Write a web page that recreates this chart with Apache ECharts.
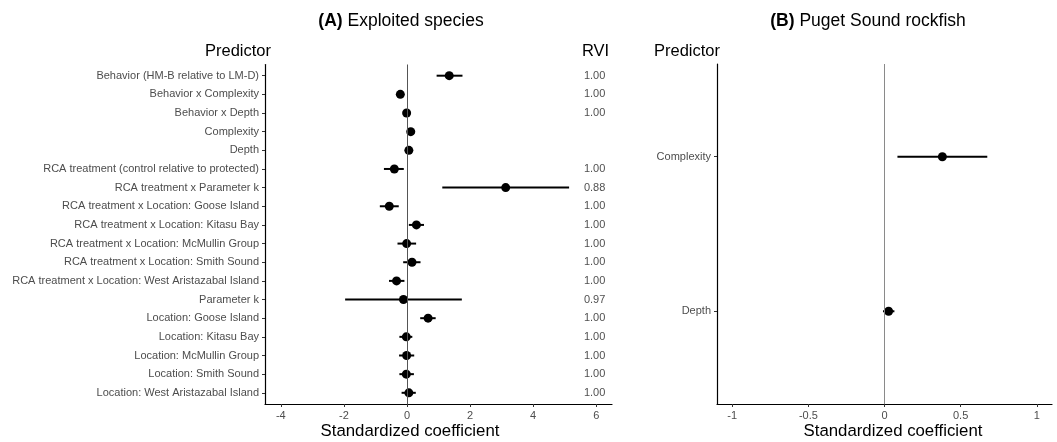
<!DOCTYPE html>
<html>
<head>
<meta charset="utf-8">
<title>Standardized coefficients</title>
<script src="https://cdn.jsdelivr.net/npm/echarts@6/dist/echarts.min.js"></script>
<style>
	html, body { margin: 0; padding: 0; background: #fff; }
	#chart { width: 1057px; height: 442px; }
</style>
</head>
<body>
<div id="chart"></div>
<script>
// panel A: exploited species
var predictorsA = [
	"Behavior (HM-B relative to LM-D)",
	"Behavior x Complexity",
	"Behavior x Depth",
	"Complexity",
	"Depth",
	"RCA treatment (control relative to protected)",
	"RCA treatment x Parameter k",
	"RCA treatment x Location: Goose Island",
	"RCA treatment x Location: Kitasu Bay",
	"RCA treatment x Location: McMullin Group",
	"RCA treatment x Location: Smith Sound",
	"RCA treatment x Location: West Aristazabal Island",
	"Parameter k",
	"Location: Goose Island",
	"Location: Kitasu Bay",
	"Location: McMullin Group",
	"Location: Smith Sound",
	"Location: West Aristazabal Island"
];
var estA   = [1.34, -0.21, -0.01, 0.12, 0.06, -0.40, 3.13, -0.56, 0.30, -0.01, 0.16, -0.33, -0.11, 0.67, -0.02, -0.01, -0.02, 0.06];
var lowerA = [0.94, -0.27, -0.07, 0.06, 0.00, -0.73, 1.12, -0.86, 0.06, -0.30, -0.12, -0.57, -1.96, 0.42, -0.24, -0.25, -0.24, -0.17];
var upperA = [1.76, -0.15, 0.05, 0.18, 0.12, -0.10, 5.14, -0.26, 0.54, 0.29, 0.43, -0.08, 1.74, 0.91, 0.17, 0.23, 0.22, 0.28];
var rviA   = ["1.00", "1.00", "1.00", "", "", "1.00", "0.88", "1.00", "1.00", "1.00", "1.00", "1.00", "0.97", "1.00", "1.00", "1.00", "1.00", "1.00"];
var ticksA = [-4, -2, 0, 2, 4, 6];

// panel B: Puget Sound rockfish
var predictorsB = ["Complexity", "Depth"];
var estB   = [0.38, 0.027];
var lowerB = [0.085, -0.01];
var upperB = [0.675, 0.065];
var ticksB = [-1, -0.5, 0, 0.5, 1];

var RVI_X = 5.95;
var FONT = "Liberation Sans, Arial, Helvetica, sans-serif";

function idx(arr) {
	return arr.map(function (d, i) { return i; });
}

function errorBars(lo, hi) {
	return lo.map(function (v, i) { return [v, hi[i], i]; });
}

function points(est) {
	return est.map(function (v, i) { return [v, i]; });
}

function renderBar(params, api) {
	var a = api.coord([api.value(0), api.value(2)]);
	var b = api.coord([api.value(1), api.value(2)]);
	return {
		type: "line",
		shape: { x1: a[0], y1: a[1], x2: b[0], y2: b[1] },
		style: { stroke: "#000", lineWidth: 2 }
	};
}

function xAxisCfg(grid, min, max, ticks) {
	return {
		type: "value", gridIndex: grid, min: min, max: max,
		splitLine: { show: false },
		axisLine: { show: true, onZero: false, lineStyle: { color: "#000", width: 1.2 } },
		axisTick: { show: true, length: 3, customValues: ticks, lineStyle: { color: "#333" } },
		axisLabel: { customValues: ticks, color: "#4d4d4d", fontSize: 11, fontFamily: FONT, margin: 6 }
	};
}

function yAxisCfg(grid, names) {
	return {
		type: "value", gridIndex: grid, inverse: true,
		min: -0.6, max: names.length - 0.4,
		splitLine: { show: false },
		axisLine: { show: true, onZero: false, lineStyle: { color: "#000", width: 1.2 } },
		axisTick: { show: true, length: 3, customValues: idx(names), lineStyle: { color: "#333" } },
		axisLabel: {
			customValues: idx(names), color: "#4d4d4d", fontSize: 11, fontFamily: FONT, margin: 6,
			formatter: function (v) { return names[Math.round(v)]; }
		}
	};
}

function zeroLine(color) {
	return {
		silent: true, symbol: "none", animation: false,
		label: { show: false },
		lineStyle: { color: color, width: 1, type: "solid" },
		data: [{ xAxis: 0 }]
	};
}

function txt(text, x, y, size, align) {
	return {
		type: "text", x: x, y: y,
		style: {
			text: text, fill: "#000", fontSize: size, fontFamily: FONT,
			align: align || "left", verticalAlign: "middle",
			rich: { b: { fontWeight: "bold", fontSize: size, fontFamily: FONT, fill: "#000" } }
		}
	};
}

var rviData = [];
rviA.forEach(function (r, i) {
	if (r !== "") rviData.push([RVI_X, i, r]);
});

var myChart = echarts.init(document.getElementById("chart"));
var option = {
	animation: false,
	backgroundColor: "#fff",
	grid: [
		{ left: 265, top: 64.5, width: 347, height: 339.5 },
		{ left: 717, top: 64, width: 335, height: 340 }
	],
	xAxis: [xAxisCfg(0, -4.5, 6.5, ticksA), xAxisCfg(1, -1.1, 1.1, ticksB)],
	yAxis: [yAxisCfg(0, predictorsA), yAxisCfg(1, predictorsB)],
	graphic: [
		txt("{b|(A)} Exploited species", 401, 21, 17.5, "center"),
		txt("{b|(B)} Puget Sound rockfish", 868, 21, 17.5, "center"),
		txt("Predictor", 205, 51, 16.5),
		txt("RVI", 582, 51, 16.5),
		txt("Predictor", 654, 51, 16.5),
		txt("Standardized coefficient", 410, 431, 16.8, "center"),
		txt("Standardized coefficient", 893, 431, 16.8, "center")
	],
	series: [
		{
			type: "custom", xAxisIndex: 0, yAxisIndex: 0,
			renderItem: renderBar, encode: { x: [0, 1], y: 2 },
			data: errorBars(lowerA, upperA), z: 3
		},
		{
			type: "scatter", xAxisIndex: 0, yAxisIndex: 0,
			symbolSize: 9, itemStyle: { color: "#000", opacity: 1 },
			data: points(estA), z: 4,
			markLine: zeroLine("#555")
		},
		{
			type: "scatter", xAxisIndex: 0, yAxisIndex: 0,
			symbolSize: 0, data: rviData, z: 5,
			label: {
				show: true, position: "inside", color: "#222", fontSize: 11, fontFamily: FONT,
				formatter: function (p) { return p.value[2]; }
			}
		},
		{
			type: "custom", xAxisIndex: 1, yAxisIndex: 1,
			renderItem: renderBar, encode: { x: [0, 1], y: 2 },
			data: errorBars(lowerB, upperB), z: 3
		},
		{
			type: "scatter", xAxisIndex: 1, yAxisIndex: 1,
			symbolSize: 9, itemStyle: { color: "#000", opacity: 1 },
			data: points(estB), z: 4,
			markLine: zeroLine("#8a8a8a")
		}
	]
};
myChart.setOption(option);
</script>
</body>
</html>
